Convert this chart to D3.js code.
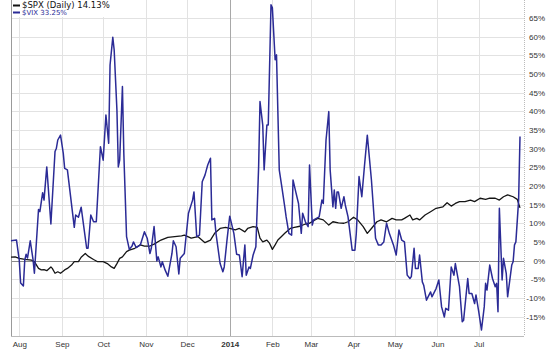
<!DOCTYPE html>
<html>
<head>
<meta charset="utf-8">
<script src="https://cdn.jsdelivr.net/npm/d3@7"></script>
<style>
  body { margin: 0; background: #fff; }
  svg { display: block; }
  .axis text { font-family: "Liberation Sans", Arial, sans-serif; font-size: 8px; fill: #333; }
  .axis path, .axis line { stroke: none; }
</style>
</head>
<body>
<div id="root"></div>
<script>
// $SPX daily, % change since start
const spxData = [
  ["2013-07-26", 0.9], ["2013-07-29", 1.0], ["2013-08-01", 0.6], ["2013-08-05", 0.3], ["2013-08-10", 0.1],
  ["2013-08-12", -0.3], ["2013-08-15", -2.1], ["2013-08-17", -2.5], ["2013-08-19", -2.4], ["2013-08-21", -2.7],
  ["2013-08-24", -1.7], ["2013-08-25", -2.1], ["2013-08-27", -3.4], ["2013-08-29", -3.0], ["2013-08-31", -3.4],
  ["2013-09-03", -2.5], ["2013-09-05", -2.1], ["2013-09-08", -1.2], ["2013-09-10", -0.3], ["2013-09-13", -0.3],
  ["2013-09-15", 0.9], ["2013-09-18", 1.9], ["2013-09-20", 1.2], ["2013-09-24", 0.3], ["2013-09-27", -0.3],
  ["2013-10-01", -0.3], ["2013-10-04", -0.8], ["2013-10-07", -1.7], ["2013-10-09", -2.1], ["2013-10-11", -0.8],
  ["2013-10-13", 0.6], ["2013-10-15", 1.0], ["2013-10-18", 2.4], ["2013-10-20", 2.8], ["2013-10-24", 3.3],
  ["2013-10-28", 4.2], ["2013-10-31", 3.9], ["2013-11-04", 3.9], ["2013-11-07", 4.4], ["2013-11-12", 5.5],
  ["2013-11-17", 6.2], ["2013-11-22", 6.4], ["2013-11-27", 6.6], ["2013-11-29", 6.8], ["2013-12-04", 6.0],
  ["2013-12-09", 6.4], ["2013-12-14", 4.8], ["2013-12-18", 5.5], ["2013-12-21", 7.3], ["2013-12-25", 8.6],
  ["2013-12-29", 8.9], ["2014-01-01", 8.6], ["2014-01-05", 8.2], ["2014-01-08", 8.6], ["2014-01-12", 7.7],
  ["2014-01-14", 8.6], ["2014-01-18", 9.1], ["2014-01-21", 8.9], ["2014-01-23", 6.0], ["2014-01-25", 5.0],
  ["2014-01-28", 5.5], ["2014-01-30", 4.6], ["2014-02-01", 3.0], ["2014-02-03", 4.2], ["2014-02-05", 5.5],
  ["2014-02-08", 6.6], ["2014-02-10", 7.3], ["2014-02-14", 8.6], ["2014-02-17", 8.9], ["2014-02-21", 9.2],
  ["2014-02-25", 9.8], ["2014-02-28", 10.0], ["2014-03-04", 10.9], ["2014-03-06", 11.3], ["2014-03-10", 10.9],
  ["2014-03-14", 9.5], ["2014-03-17", 10.4], ["2014-03-21", 10.1], ["2014-03-25", 10.0], ["2014-03-28", 10.4],
  ["2014-04-01", 11.6], ["2014-04-04", 10.9], ["2014-04-08", 9.1], ["2014-04-11", 7.3], ["2014-04-14", 8.6],
  ["2014-04-18", 10.4], ["2014-04-21", 10.9], ["2014-04-25", 10.4], ["2014-04-29", 11.3], ["2014-05-02", 10.9],
  ["2014-05-06", 10.9], ["2014-05-08", 11.3], ["2014-05-12", 12.2], ["2014-05-14", 10.9], ["2014-05-17", 11.3],
  ["2014-05-19", 10.9], ["2014-05-23", 12.2], ["2014-05-27", 13.1], ["2014-05-31", 14.0], ["2014-06-05", 14.4],
  ["2014-06-08", 15.5], ["2014-06-11", 14.6], ["2014-06-14", 15.3], ["2014-06-17", 15.8], ["2014-06-21", 15.8],
  ["2014-06-25", 16.2], ["2014-06-28", 15.8], ["2014-07-02", 16.7], ["2014-07-06", 16.4], ["2014-07-09", 16.7],
  ["2014-07-13", 16.7], ["2014-07-16", 16.2], ["2014-07-19", 17.1], ["2014-07-22", 17.6], ["2014-07-26", 17.1],
  ["2014-07-29", 16.4], ["2014-07-31", 14.13]
];

// $VIX, % change since start
const vixData = [
  ["2013-07-26", 5.3], ["2013-07-30", 5.5], ["2013-08-01", 0.1], ["2013-08-02", -6.0], ["2013-08-04", -6.8],
  ["2013-08-05", 0.1], ["2013-08-06", 1.7], ["2013-08-07", 0.7], ["2013-08-09", 5.3], ["2013-08-11", 0.3],
  ["2013-08-12", -3.4], ["2013-08-15", 13.7], ["2013-08-16", 13.1], ["2013-08-18", 18.2], ["2013-08-19", 16.2],
  ["2013-08-21", 25.1], ["2013-08-24", 9.8], ["2013-08-27", 29.2], ["2013-08-28", 30.1], ["2013-08-29", 32.3],
  ["2013-08-31", 33.6], ["2013-09-02", 28.7], ["2013-09-03", 24.7], ["2013-09-05", 24.3], ["2013-09-10", 8.9],
  ["2013-09-11", 12.2], ["2013-09-13", 11.6], ["2013-09-15", 14.3], ["2013-09-19", 3.3], ["2013-09-20", 3.3],
  ["2013-09-22", 12.2], ["2013-09-24", 10.4], ["2013-09-26", 10.4], ["2013-09-29", 30.5], ["2013-10-01", 26.9],
  ["2013-10-03", 39.0], ["2013-10-05", 31.4], ["2013-10-06", 52.4], ["2013-10-08", 59.8], ["2013-10-09", 56.4],
  ["2013-10-11", 40.3], ["2013-10-12", 25.1], ["2013-10-13", 26.9], ["2013-10-15", 46.6], ["2013-10-16", 28.8],
  ["2013-10-18", 6.4], ["2013-10-20", 3.0], ["2013-10-22", 3.9], ["2013-10-23", 5.0], ["2013-10-25", 3.5],
  ["2013-10-28", 4.2], ["2013-10-31", 7.7], ["2013-11-02", 6.0], ["2013-11-04", 1.9], ["2013-11-05", 3.3],
  ["2013-11-07", 9.1], ["2013-11-09", -0.1], ["2013-11-10", 1.0], ["2013-11-12", -1.7], ["2013-11-13", -0.3],
  ["2013-11-15", -2.5], ["2013-11-17", -4.2], ["2013-11-20", 1.9], ["2013-11-21", 5.3], ["2013-11-23", 3.7],
  ["2013-11-25", -3.6], ["2013-11-26", 0.6], ["2013-11-29", 1.9], ["2013-12-02", 12.7], ["2013-12-05", 16.2],
  ["2013-12-06", 18.4], ["2013-12-08", 6.4], ["2013-12-10", 6.8], ["2013-12-12", 21.1], ["2013-12-14", 22.9],
  ["2013-12-16", 25.6], ["2013-12-18", 27.4], ["2013-12-19", 10.9], ["2013-12-21", 11.3], ["2013-12-22", 7.3],
  ["2013-12-25", -0.8], ["2013-12-27", -3.0], ["2013-12-28", -1.7], ["2013-12-30", 5.5], ["2014-01-01", 11.9],
  ["2014-01-04", 7.3], ["2014-01-06", 1.7], ["2014-01-08", 1.5], ["2014-01-10", -4.3], ["2014-01-12", 4.2],
  ["2014-01-13", -3.9], ["2014-01-15", -1.7], ["2014-01-16", -2.1], ["2014-01-18", 1.5], ["2014-01-20", 3.7],
  ["2014-01-22", 25.1], ["2014-01-23", 42.6], ["2014-01-25", 36.3], ["2014-01-26", 24.3], ["2014-01-28", 36.3],
  ["2014-01-29", 36.3], ["2014-01-31", 68.5], ["2014-02-01", 67.7], ["2014-02-03", 53.8], ["2014-02-04", 55.1],
  ["2014-02-06", 24.3], ["2014-02-08", 19.4], ["2014-02-10", 14.4], ["2014-02-11", 11.7], ["2014-02-13", 7.3],
  ["2014-02-15", 6.8], ["2014-02-16", 21.6], ["2014-02-18", 18.4], ["2014-02-20", 15.3], ["2014-02-22", 7.3],
  ["2014-02-23", 12.7], ["2014-02-25", 10.4], ["2014-02-27", 9.1], ["2014-02-28", 25.6], ["2014-03-02", 9.5],
  ["2014-03-03", 10.9], ["2014-03-05", 11.3], ["2014-03-07", 11.7], ["2014-03-09", 16.2], ["2014-03-10", 15.3],
  ["2014-03-12", 32.3], ["2014-03-14", 39.9], ["2014-03-15", 24.3], ["2014-03-17", 14.4], ["2014-03-18", 18.9],
  ["2014-03-19", 14.0], ["2014-03-20", 18.4], ["2014-03-21", 18.4], ["2014-03-23", 14.0], ["2014-03-25", 17.1],
  ["2014-03-26", 14.9], ["2014-03-28", 11.7], ["2014-03-31", 2.8], ["2014-04-02", 2.8], ["2014-04-03", 7.3],
  ["2014-04-05", 22.5], ["2014-04-07", 17.1], ["2014-04-09", 25.6], ["2014-04-11", 33.6], ["2014-04-14", 21.6],
  ["2014-04-17", 6.0], ["2014-04-19", 4.2], ["2014-04-21", 4.2], ["2014-04-23", 5.0], ["2014-04-25", 10.0],
  ["2014-04-27", 7.3], ["2014-04-30", 4.2], ["2014-05-02", 1.5], ["2014-05-04", 8.2], ["2014-05-06", 5.5],
  ["2014-05-08", 5.0], ["2014-05-10", -3.9], ["2014-05-12", -4.8], ["2014-05-13", -4.3], ["2014-05-15", 3.3],
  ["2014-05-16", -2.1], ["2014-05-18", -2.1], ["2014-05-19", 1.5], ["2014-05-21", -5.7], ["2014-05-22", -6.6],
  ["2014-05-24", -10.6], ["2014-05-27", -8.4], ["2014-05-28", -9.7], ["2014-05-31", -7.5], ["2014-06-02", -5.2],
  ["2014-06-04", -12.4], ["2014-06-06", -15.1], ["2014-06-07", -12.8], ["2014-06-09", -13.3], ["2014-06-11", -1.7],
  ["2014-06-13", -3.9], ["2014-06-14", -0.8], ["2014-06-17", -7.0], ["2014-06-19", -16.4], ["2014-06-20", -16.0],
  ["2014-06-23", -4.8], ["2014-06-24", -8.8], ["2014-06-26", -8.8], ["2014-06-28", -11.5], ["2014-06-29", -9.2],
  ["2014-07-01", -13.7], ["2014-07-03", -18.6], ["2014-07-05", -12.4], ["2014-07-06", -6.1], ["2014-07-07", -7.9],
  ["2014-07-09", -1.2], ["2014-07-11", -4.8], ["2014-07-13", -7.0], ["2014-07-14", -6.1], ["2014-07-15", -13.7],
  ["2014-07-16", 14.0], ["2014-07-18", -5.2], ["2014-07-19", 0.6], ["2014-07-21", -3.4], ["2014-07-22", -9.7],
  ["2014-07-25", -1.2], ["2014-07-26", -0.3], ["2014-07-27", 4.2], ["2014-07-28", 5.0], ["2014-07-30", 16.2],
  ["2014-07-31", 33.25]
];

const monthTicks = ["2013-08-01", "2013-09-01", "2013-10-01", "2013-11-01", "2013-12-01", "2014-01-01",
                    "2014-02-01", "2014-03-01", "2014-04-01", "2014-05-01", "2014-06-01", "2014-07-01"];
const monthLabels = ["Aug", "Sep", "Oct", "Nov", "Dec", "2014", "Feb", "Mar", "Apr", "May", "Jun", "Jul"];
const pctTicks = [-15, -10, -5, 0, 5, 10, 15, 20, 25, 30, 35, 40, 45, 50, 55, 60, 65];

const legendItems = [
  { label: "$SPX (Daily) 14.13%", color: "#111", size: 8.5 },
  { label: "$VIX 33.25%", color: "#2b2b96", size: 7 }
];

const outerWidth = 550;
const outerHeight = 352;
const plot = { left: 11, right: 524, top: 0, bottom: 336 };

const parse = d3.timeParse("%Y-%m-%d");

let scaleX = d3.scaleTime()
    .domain([parse("2013-07-26"), parse("2014-07-31")])
    .range([11, 520]);
let scaleY = d3.scaleLinear().domain([-20.2, 69.8]).range([plot.bottom, plot.top]);

let svg = d3.select("#root")
    .append("svg")
    .attr("width", outerWidth)
    .attr("height", outerHeight);

// horizontal grid
svg.append("g")
    .selectAll("line")
    .data(pctTicks)
    .join("line")
      .attr("x1", plot.left)
      .attr("x2", plot.right)
      .attr("y1", d => Math.round(scaleY(d)) + 0.5)
      .attr("y2", d => Math.round(scaleY(d)) + 0.5)
      .attr("stroke", d => d == 0 ? "#8a8a8a" : "#e2e2e2")
      .attr("stroke-width", 1);

// vertical grid (year boundary darker)
svg.append("g")
    .selectAll("line")
    .data(monthTicks)
    .join("line")
      .attr("x1", d => Math.round(scaleX(parse(d))) + 0.5)
      .attr("x2", d => Math.round(scaleX(parse(d))) + 0.5)
      .attr("y1", plot.top)
      .attr("y2", plot.bottom)
      .attr("stroke", (d, i) => monthLabels[i] == "2014" ? "#a8a8a8" : "#e2e2e2");

// frame
svg.append("line")
    .attr("x1", plot.left + 0.5).attr("x2", plot.left + 0.5)
    .attr("y1", plot.top).attr("y2", plot.bottom)
    .attr("stroke", "#9a9a9a");
svg.append("line")
    .attr("x1", plot.left).attr("x2", plot.right)
    .attr("y1", plot.bottom + 0.5).attr("y2", plot.bottom + 0.5)
    .attr("stroke", "#bbb");
svg.append("line")
    .attr("x1", plot.right + 0.5).attr("x2", plot.right + 0.5)
    .attr("y1", plot.top).attr("y2", plot.bottom)
    .attr("stroke", "#bbb")
    .attr("stroke-dasharray", "1,1");

// lines
let line = d3.line()
    .x(d => scaleX(parse(d[0])))
    .y(d => scaleY(d[1]));

svg.append("path")
    .datum(spxData)
    .attr("fill", "none")
    .attr("stroke", "#151515")
    .attr("stroke-width", 1.3)
    .attr("stroke-linejoin", "round")
    .attr("d", line);

svg.append("path")
    .datum(vixData)
    .attr("fill", "none")
    .attr("stroke", "#2b2b96")
    .attr("stroke-width", 1.5)
    .attr("stroke-linejoin", "round")
    .attr("d", line);

// axes
let yAxis = d3.axisRight(scaleY)
    .tickValues(pctTicks)
    .tickSize(0)
    .tickFormat(d => d + "%");
svg.append("g")
    .attr("class", "axis")
    .attr("transform", `translate(${plot.right}, 0)`)
    .call(yAxis)
    .selectAll("text")
      .attr("x", 21)
      .attr("text-anchor", "end");

let xAxis = d3.axisBottom(scaleX)
    .tickValues(monthTicks.map(parse))
    .tickSize(0)
    .tickFormat((d, i) => monthLabels[i]);
svg.append("g")
    .attr("class", "axis")
    .attr("transform", `translate(0, ${plot.bottom})`)
    .call(xAxis)
    .selectAll("text")
      .attr("y", 5)
      .style("font-weight", (d, i) => monthLabels[i] == "2014" ? "bold" : null);

// legend
let legend = svg.append("g").attr("transform", "translate(13, 0)");
legend.append("rect")
    .attr("x", 0).attr("y", 0)
    .attr("width", 105).attr("height", 17)
    .attr("fill", "#fff");
legend.selectAll("g")
    .data(legendItems)
    .join("g")
      .attr("transform", (d, i) => `translate(0, ${i == 0 ? 8 : 15})`)
      .each(function(d) {
          let g = d3.select(this);
          g.append("line")
              .attr("x1", 0).attr("x2", 7)
              .attr("y1", -2.5).attr("y2", -2.5)
              .attr("stroke", d.color)
              .attr("stroke-width", 2);
          g.append("text")
              .attr("x", 9)
              .attr("font-family", "'DejaVu Sans', Verdana, sans-serif")
              .attr("font-size", d.size)
              .attr("fill", d.color)
              .text(d.label);
      });
</script>
</body>
</html>
